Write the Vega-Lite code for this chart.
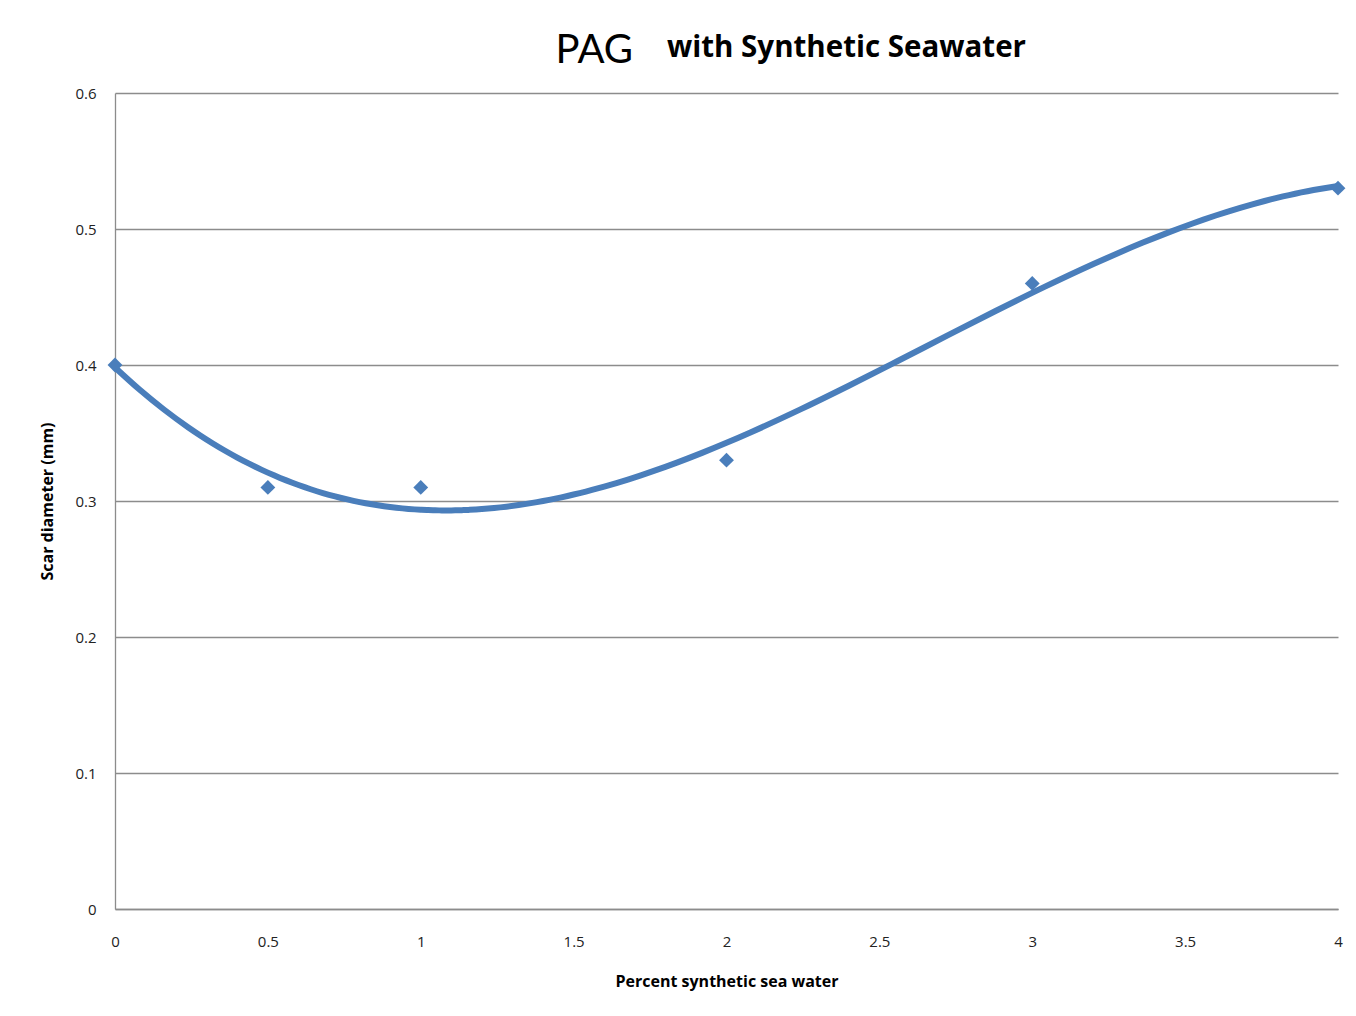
{
  "$schema": "https://vega.github.io/schema/vega-lite/v6.json",
  "width": 1223,
  "height": 816,
  "autosize": {"type": "none"},
  "padding": {"left": 115, "top": 93, "right": 18, "bottom": 107},
  "background": "white",
  "title": {
    "text": "with Synthetic Seawater",
    "anchor": "start",
    "frame": "group",
    "dx": 552,
    "dy": 37,
    "font": "Open Sans",
    "fontSize": 29.5,
    "fontWeight": "bold",
    "color": "#000000"
  },
  "data": {
    "values": [
      {"pct": 0, "scar": 0.40},
      {"pct": 0.5, "scar": 0.31},
      {"pct": 1, "scar": 0.31},
      {"pct": 2, "scar": 0.33},
      {"pct": 3, "scar": 0.46},
      {"pct": 4, "scar": 0.53}
    ]
  },
  "config": {
    "view": {"stroke": null},
    "axis": {
      "labelFont": "Open Sans",
      "titleFont": "Open Sans",
      "labelColor": "#222222",
      "titleColor": "#000000",
      "ticks": false,
      "gridColor": "#8c8c8c",
      "gridWidth": 1.3,
      "domainColor": "#8c8c8c",
      "domainWidth": 1.3
    }
  },
  "layer": [
    {
      "transform": [
        {"regression": "scar", "on": "pct", "method": "poly", "order": 3, "extent": [0, 4]}
      ],
      "mark": {"type": "line", "color": "#4a7ebb", "strokeWidth": 6, "interpolate": "monotone"},
      "encoding": {
        "x": {
          "field": "pct", "type": "quantitative",
          "scale": {"domain": [0, 4], "nice": false, "zero": false},
          "axis": {
            "values": [0, 0.5, 1, 1.5, 2, 2.5, 3, 3.5, 4],
            "format": "~g",
            "grid": false,
            "labelFontSize": 15,
            "labelPadding": 25,
            "labelFlush": false,
            "title": "Percent synthetic sea water",
            "titleFontSize": 16,
            "titleFontWeight": "bold",
            "titlePadding": 24
          }
        },
        "y": {
          "field": "scar", "type": "quantitative",
          "scale": {"domain": [0, 0.6], "nice": false},
          "axis": {
            "values": [0, 0.1, 0.2, 0.3, 0.4, 0.5, 0.6],
            "format": "~g",
            "grid": true,
            "labelFontSize": 15,
            "labelPadding": 19,
            "title": "Scar diameter (mm)",
            "titleFontSize": 16,
            "titleFontWeight": "bold",
            "titlePadding": 19
          }
        }
      }
    },
    {
      "mark": {"type": "point", "shape": "diamond", "filled": true, "color": "#4a7ebb", "size": 220, "opacity": 1},
      "encoding": {
        "x": {
          "field": "pct", "type": "quantitative",
          "scale": {"domain": [0, 4], "nice": false, "zero": false},
          "axis": {
            "orient": "top",
            "labels": false,
            "grid": false,
            "domain": false,
            "title": "PAG",
            "titleFont": "Lato",
            "titleFontSize": 40,
            "titleFontWeight": "normal",
            "titleAnchor": "start",
            "titleX": 440,
            "titleY": -31,
            "titleBaseline": "alphabetic"
          }
        },
        "y": {"field": "scar", "type": "quantitative"}
      }
    }
  ],
  "resolve": {"axis": {"x": "independent"}}
}
